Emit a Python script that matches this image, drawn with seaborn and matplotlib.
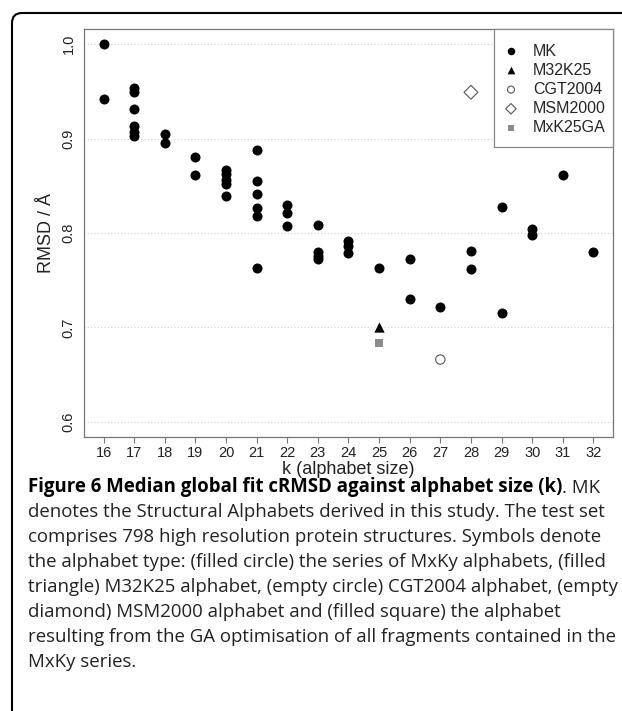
import matplotlib.pyplot as plt
import seaborn as sns
from matplotlib.patches import FancyBboxPatch, Rectangle

# MK series: alphabet size k and median global fit cRMSD
mk_k = [16, 16,
        17, 17, 17, 17, 17, 17,
        18, 18,
        19, 19,
        20, 20, 20, 20, 20,
        21, 21, 21, 21, 21, 21,
        22, 22, 22,
        23, 23, 23, 23,
        24, 24, 24,
        25,
        26, 26,
        27,
        28, 28,
        29, 29,
        30, 30,
        31,
        32]
mk_rmsd = [1.000, 0.942,
           0.954, 0.949, 0.931, 0.913, 0.907, 0.903,
           0.905, 0.895,
           0.880, 0.861,
           0.867, 0.862, 0.856, 0.852, 0.839,
           0.888, 0.855, 0.841, 0.826, 0.818, 0.763,
           0.830, 0.821, 0.807,
           0.808, 0.780, 0.776, 0.772,
           0.792, 0.786, 0.779,
           0.763,
           0.772, 0.730,
           0.722,
           0.781, 0.762,
           0.828, 0.715,
           0.804, 0.798,
           0.861,
           0.780]

# other alphabets
m32k25_k, m32k25_rmsd = [25], [0.700]
cgt2004_k, cgt2004_rmsd = [27], [0.666]
msm2000_k, msm2000_rmsd = [28], [0.949]
mxk25ga_k, mxk25ga_rmsd = [25], [0.683]

x_ticks = list(range(16, 33))
y_ticks = [0.6, 0.7, 0.8, 0.9, 1.0]

caption_bold = "Figure 6 Median global fit cRMSD against alphabet size (k)"
caption_lines = [
    ". MK",
    "denotes the Structural Alphabets derived in this study. The test set",
    "comprises 798 high resolution protein structures. Symbols denote",
    "the alphabet type: (filled circle) the series of MxKy alphabets, (filled",
    "triangle) M32K25 alphabet, (empty circle) CGT2004 alphabet, (empty",
    "diamond) MSM2000 alphabet and (filled square) the alphabet",
    "resulting from the GA optimisation of all fragments contained in the",
    "MxKy series.",
]

sns.set_theme(style="white")
plt.rcParams["font.family"] = ["Liberation Sans", "DejaVu Sans"]

W, H = 622, 711
fig = plt.figure(figsize=(W / 100, H / 100), dpi=100)
ax = fig.add_axes([0.135, 0.3854, 0.8505, 0.5738])

sns.scatterplot(x=mk_k, y=mk_rmsd, ax=ax, marker="o", s=52, color="black",
                edgecolor="black", linewidth=0, label="MK", zorder=3)
sns.scatterplot(x=m32k25_k, y=m32k25_rmsd, ax=ax, marker="^", s=55, color="black",
                edgecolor="black", linewidth=0, label="M32K25", zorder=3)
sns.scatterplot(x=cgt2004_k, y=cgt2004_rmsd, ax=ax, marker="o", s=45, color="#555555",
                facecolor="none", edgecolor="#555555", linewidth=0.8,
                label="CGT2004", zorder=3)
sns.scatterplot(x=msm2000_k, y=msm2000_rmsd, ax=ax, marker="D", s=50, color="#555555",
                facecolor="none", edgecolor="#555555", linewidth=0.8,
                label="MSM2000", zorder=3)
sns.scatterplot(x=mxk25ga_k, y=mxk25ga_rmsd, ax=ax, marker="s", s=40, color="#8c8c8c",
                edgecolor="#8c8c8c", linewidth=0, label="MxK25GA", zorder=3)

ax.set_xlim(15.36, 32.64)
ax.set_ylim(0.584, 1.016)
ax.set_xticks(x_ticks)
ax.set_xticklabels([str(k) for k in x_ticks])
ax.set_yticks(y_ticks)
ax.set_yticklabels([f"{v:.1f}" for v in y_ticks], rotation=90, va="center")
ax.tick_params(axis="x", direction="out", length=4, width=0.8, color="#777777",
               labelsize=10.5, labelcolor="#222222", pad=2.5, bottom=True)
ax.tick_params(axis="y", length=0, labelsize=10.5, labelcolor="#222222", pad=6)
ax.yaxis.grid(True, linestyle=(0, (1, 2)), color="#cfcfcf", linewidth=0.8)
ax.xaxis.grid(False)
for sp in ax.spines.values():
    sp.set_color("#777777")
    sp.set_linewidth(0.9)

ax.set_xlabel("k (alphabet size)", fontsize=13, color="#222222", labelpad=1)
ax.set_ylabel("RMSD / Å", fontsize=13, color="#222222", labelpad=5)

# legend: entries without frame, box drawn separately (R style padding)
leg = ax.legend(loc="upper left", bbox_to_anchor=(501.4 / W, 1 - 43.5 / H),
                bbox_transform=fig.transFigure, borderaxespad=0, borderpad=0,
                fontsize=11.5, frameon=False, markerscale=0.75,
                handletextpad=0.78, labelspacing=0.26, handlelength=1.2)
leg.set_zorder(6)
box = Rectangle((494 / W, 1 - 147 / H), 119 / W, 118 / H, transform=fig.transFigure,
                facecolor="white", edgecolor="#888888", linewidth=0.9,
                zorder=5, clip_on=False)
ax.add_patch(box)

# caption below the chart
cap_size = 13.4
t1 = fig.text(28 / W, 1 - 492 / H, caption_bold, fontsize=cap_size,
              family="Open Sans", weight="bold", color="black", va="baseline")
ann = plt.annotate(caption_lines[0], xy=(1, 0), xycoords=t1, fontsize=cap_size,
                   family="Open Sans", color="#222222", va="bottom", ha="left",
                   annotation_clip=False)
for i, line in enumerate(caption_lines[1:]):
    fig.text(28 / W, 1 - (517 + 25 * i) / H, line, fontsize=cap_size,
             family="Open Sans", color="#222222", va="baseline")

# rounded frame around the figure panel
frame = FancyBboxPatch((0.12, -0.5), 7.0, 7.48, boxstyle="round,pad=0,rounding_size=0.1",
                       transform=fig.dpi_scale_trans, facecolor="none",
                       edgecolor="black", linewidth=1.5)
fig.patches.append(frame)

fig.savefig("out.png", dpi=100)
